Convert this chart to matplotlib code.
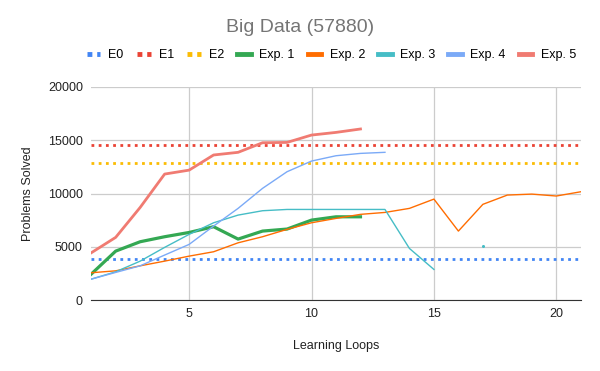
import numpy as np
import matplotlib
matplotlib.use("Agg")
import matplotlib.pyplot as plt

plt.rcParams['font.family'] = ['Liberation Sans', 'DejaVu Sans']

loops = list(range(1, 22))
e0, e1, e2 = 3880, 14580, 12830
exp1 = [2440, 4600, 5480, 5950, 6350, 6890, 5730, 6480, 6670, 7510, 7820, 7820]
exp2 = [2570, 2750, 3220, 3660, 4130, 4540, 5380, 5950, 6640, 7260, 7670, 8050,
        8230, 8610, 9480, 6480, 8990, 9860, 9950, 9770, 10170]
exp3 = [1970, 2660, 3660, 4950, 6170, 7260, 7980, 8390, 8510, 8510, 8510, 8510,
        8510, 4850, 2880, None, 5070]
exp4 = [1970, 2600, 3220, 4230, 5230, 6950, 8610, 10490, 12050, 13050, 13550, 13770, 13870]
exp5 = [4440, 5890, 8700, 11830, 12200, 13620, 13870, 14770, 14800, 15490, 15740, 16060]

def arr(v):
    return np.array([np.nan if x is None else x for x in v], dtype=float)

fig = plt.figure(figsize=(6, 3.71), dpi=100)
ax = fig.add_axes([0.152, 0.191, 0.816, 0.5745])

c = dict(E0="#4285F4", E1="#EA4335", E2="#FBBC04", e1="#34A853", e2="#FF6D01",
         e3="#46BDC6", e4="#7BAAF7", e5="#F07B72")

ls_dot = (0, (1, 1.6))
ax.axhline(e0, color=c["E0"], lw=2, ls=ls_dot, label="E0")
ax.axhline(e1, color=c["E1"], lw=2, ls=ls_dot, label="E1")
ax.axhline(e2, color=c["E2"], lw=2, ls=ls_dot, label="E2")
ax.plot(loops[:len(exp1)], exp1, color=c["e1"], lw=2.3, label="Exp. 1")
ax.plot(loops[:len(exp2)], exp2, color=c["e2"], lw=1.0, label="Exp. 2")
y3 = arr(exp3)
ax.plot(loops[:len(exp3)], y3, color=c["e3"], lw=1.0, label="Exp. 3")
ax.plot([loops[16]], [y3[16]], marker="o", ms=1.2, color=c["e3"], ls="none")
ax.plot(loops[:len(exp4)], exp4, color=c["e4"], lw=1.0, label="Exp. 4")
ax.plot(loops[:len(exp5)], exp5, color=c["e5"], lw=2.0, label="Exp. 5")

ax.set_xlim(1, 21)
ax.set_ylim(0, 20000)
ax.set_xticks([5, 10, 15, 20])
ax.set_yticks([0, 5000, 10000, 15000, 20000])
ax.grid(True, color="#cccccc", lw=0.9)
ax.set_axisbelow(True)
for s in ["top", "right", "left"]:
    ax.spines[s].set_visible(False)
ax.spines["bottom"].set_color("#333333")
ax.tick_params(length=0, labelsize=9, colors="#222222", pad=6)
ax.set_xlabel("Learning Loops", fontsize=9, color="#222222", labelpad=14)
ax.set_ylabel("Problems Solved", fontsize=9, color="#222222", labelpad=10)

fig.text(0.5, 0.925, "Big Data (57880)", ha="center", va="center", fontsize=14, color="#757575")
handles, labels = ax.get_legend_handles_labels()
leg = fig.legend(handles, labels, loc="center", bbox_to_anchor=(0.552, 0.852), ncol=8,
                 frameon=False, fontsize=9, handlelength=1.1, columnspacing=1.05,
                 handletextpad=0.65)
for lh in leg.get_lines():
    lh.set_linewidth(3.5)
    if lh.get_label() in ("E0", "E1", "E2"):
        lh.set_linestyle((0, (1, 1.0)))
fig.savefig("out.png", dpi=100)
